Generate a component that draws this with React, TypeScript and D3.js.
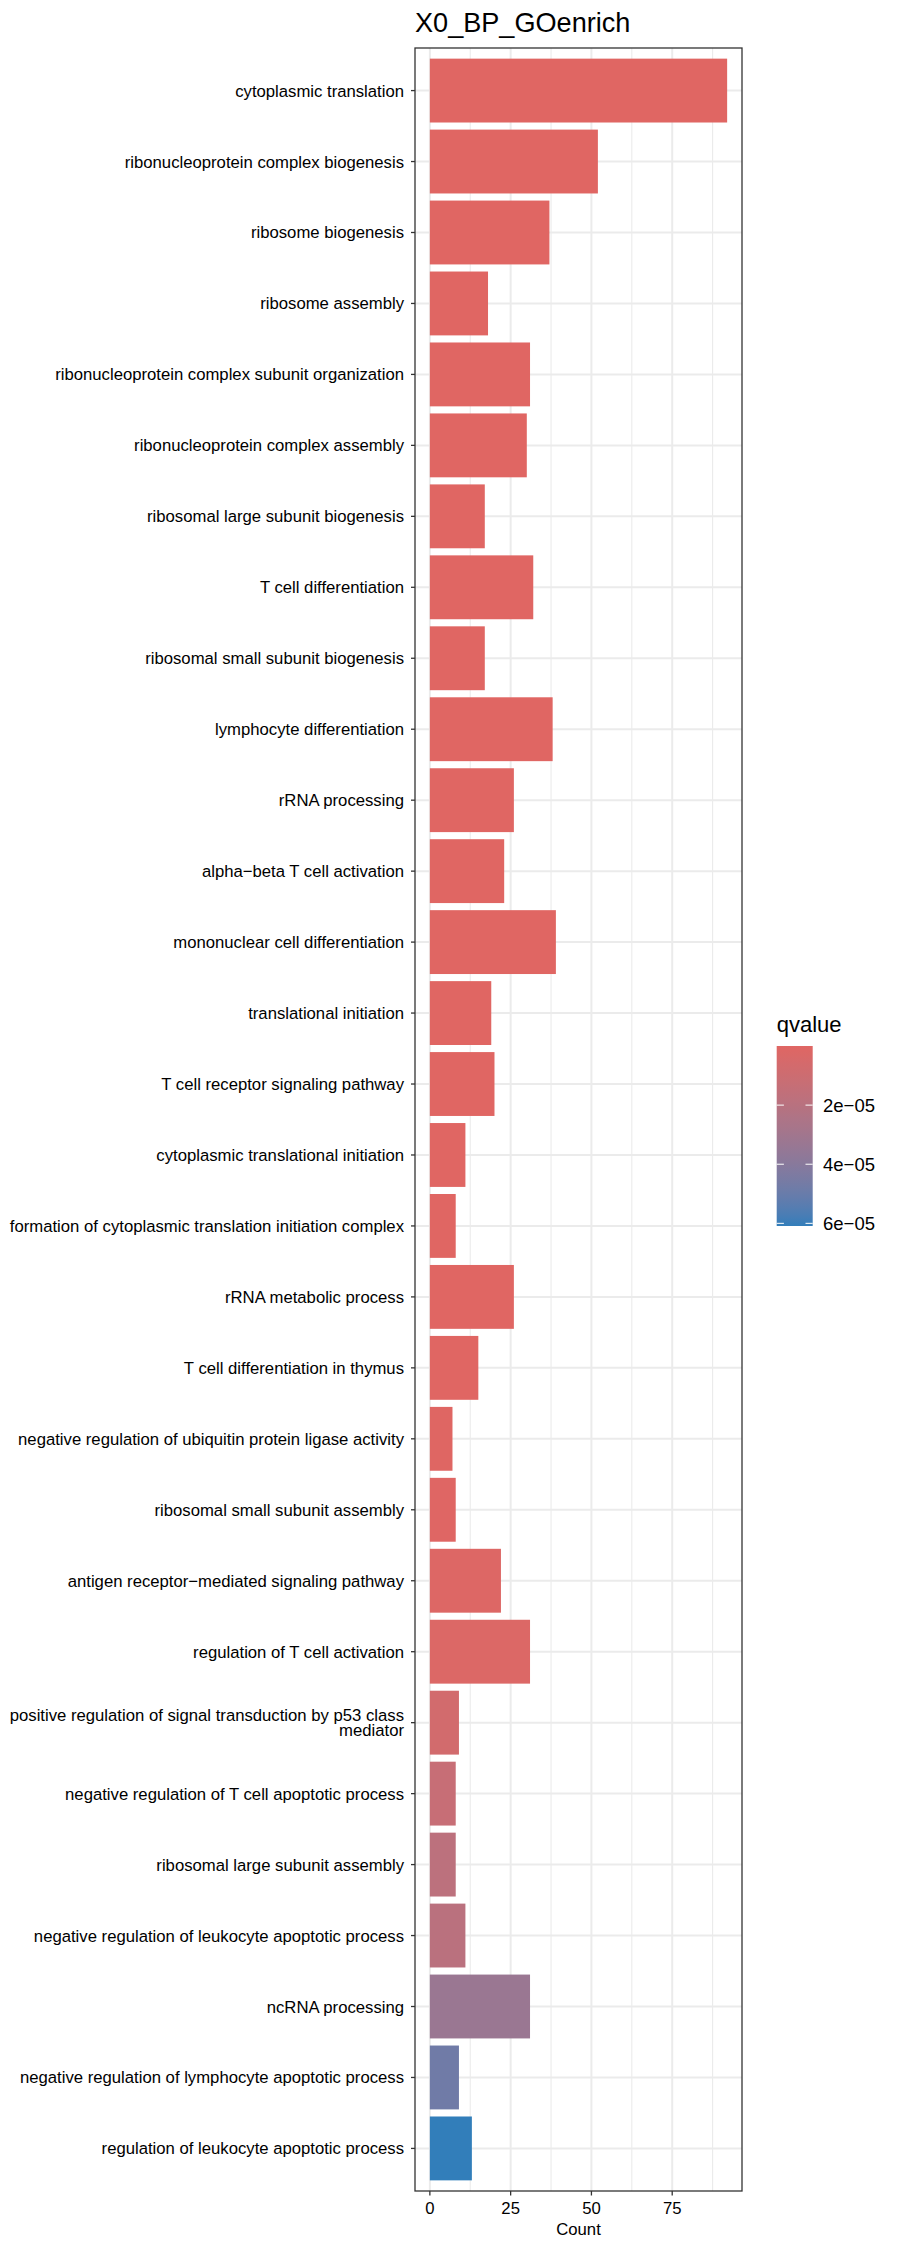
import React, { useEffect } from "react";
import * as d3 from "d3";

const terms = [
  "cytoplasmic translation",
  "ribonucleoprotein complex biogenesis",
  "ribosome biogenesis",
  "ribosome assembly",
  "ribonucleoprotein complex subunit organization",
  "ribonucleoprotein complex assembly",
  "ribosomal large subunit biogenesis",
  "T cell differentiation",
  "ribosomal small subunit biogenesis",
  "lymphocyte differentiation",
  "rRNA processing",
  "alpha\u2212beta T cell activation",
  "mononuclear cell differentiation",
  "translational initiation",
  "T cell receptor signaling pathway",
  "cytoplasmic translational initiation",
  "formation of cytoplasmic translation initiation complex",
  "rRNA metabolic process",
  "T cell differentiation in thymus",
  "negative regulation of ubiquitin protein ligase activity",
  "ribosomal small subunit assembly",
  "antigen receptor\u2212mediated signaling pathway",
  "regulation of T cell activation",
  "positive regulation of signal transduction by p53 class mediator",
  "negative regulation of T cell apoptotic process",
  "ribosomal large subunit assembly",
  "negative regulation of leukocyte apoptotic process",
  "ncRNA processing",
  "negative regulation of lymphocyte apoptotic process",
  "regulation of leukocyte apoptotic process",
];

const counts = [92, 52, 37, 18, 31, 30, 17, 32, 17, 38, 26, 23, 39, 19, 20, 11, 8, 26, 15, 7, 8, 22, 31, 9, 8, 8, 11, 31, 9, 13];

const qvalues = [
  1.2e-38, 3.5e-22, 8.1e-18, 2.4e-15, 5.0e-15, 1.1e-14, 3.9e-13, 1.6e-12, 2.2e-12, 6.3e-12,
  1.5e-11, 3.8e-10, 4.1e-10, 9.7e-10, 2.0e-9, 4.6e-9, 1.3e-8, 2.9e-8, 8.5e-8, 3.1e-7,
  5.6e-7, 1.4e-6, 2.3e-6, 7.2e-6, 1.3e-5, 1.8e-5, 1.9e-5, 3.3e-5, 4.8e-5, 6.09e-5,
];

const xTicks = [0, 25, 50, 75];
const xMinorTicks = [12.5, 37.5, 62.5, 87.5];
const legendTicks = [2e-5, 4e-5, 6e-5];
const legendTickLabels = ["2e\u221205", "4e\u221205", "6e\u221205"];

const title = "X0_BP_GOenrich";
const xTitle = "Count";
const legendTitle = "qvalue";

const LOW_COLOR = "#e06663";
const HIGH_COLOR = "#327eba";
const FONT = "'Liberation Sans', Arial, Helvetica, sans-serif";

function wrap(s: string, width: number): string[] {
  const words = s.split(" ");
  const lines: string[] = [];
  let cur = "";
  for (const w of words) {
    if (cur.length === 0) cur = w;
    else if ((cur + " " + w).length <= width) cur = cur + " " + w;
    else {
      lines.push(cur);
      cur = w;
    }
  }
  if (cur) lines.push(cur);
  return lines;
}

export default function App() {
  useEffect(() => {
    document.body.style.margin = "0";
  }, []);

  const W = 900;
  const H = 2250;
  const panel = { left: 415, right: 742, top: 48, bottom: 2191 };

  const maxC = d3.max(counts) as number;
  const x = d3
    .scaleLinear()
    .domain([-0.05 * maxC, maxC * 1.05])
    .range([panel.left, panel.right]);

  const y = d3.scalePoint<string>().domain(terms).range([panel.top, panel.bottom]).padding(0.6);
  const step = y.step();
  const barH = step * 0.9;

  const qExtent = d3.extent(qvalues) as [number, number];
  const interp = d3.interpolateLab(LOW_COLOR, HIGH_COLOR);
  const color = (q: number) => interp((q - qExtent[0]) / (qExtent[1] - qExtent[0]));

  const leg = { x: 776.7, w: 36, top: 1046, bottom: 1226 };
  const ly = d3.scaleLinear().domain(qExtent).range([leg.top, leg.bottom]);
  const stops = d3.range(0, 1.0001, 0.05);

  const fontSize = 16.7;

  return (
    <svg
      width={W}
      height={H}
      style={{ position: "absolute", left: 0, top: 0, background: "#fff" }}
      fontFamily={FONT}
    >
      <defs>
        <linearGradient id="qgrad" x1="0" y1="0" x2="0" y2="1">
          {stops.map((t, i) => (
            <stop key={i} offset={t} stopColor={interp(t)} />
          ))}
        </linearGradient>
      </defs>
      <rect x={0} y={0} width={W} height={H} fill="#fff" />

      {/* grid */}
      {xMinorTicks.map((t) => (
        <line key={"mn" + t} x1={x(t)} x2={x(t)} y1={panel.top} y2={panel.bottom} stroke="#ebebeb" strokeWidth={1.1} />
      ))}
      {xTicks.map((t) => (
        <line key={"mj" + t} x1={x(t)} x2={x(t)} y1={panel.top} y2={panel.bottom} stroke="#ebebeb" strokeWidth={2} />
      ))}
      {terms.map((t) => (
        <line key={"hg" + t} x1={panel.left} x2={panel.right} y1={y(t)} y2={y(t)} stroke="#ebebeb" strokeWidth={2} />
      ))}

      {/* bars */}
      {terms.map((t, i) => (
        <rect
          key={"b" + t}
          x={x(0)}
          y={(y(t) as number) - barH / 2}
          width={x(counts[i]) - x(0)}
          height={barH}
          fill={color(qvalues[i])}
        />
      ))}

      {/* panel border */}
      <rect
        x={panel.left}
        y={panel.top}
        width={panel.right - panel.left}
        height={panel.bottom - panel.top}
        fill="none"
        stroke="#333333"
        strokeWidth={1.3}
      />

      {/* y axis ticks and labels */}
      {terms.map((t) => {
        const cy = y(t) as number;
        const lines = wrap(t, 60);
        const lh = fontSize * 0.9;
        const y0 = cy - ((lines.length - 1) * lh) / 2;
        return (
          <g key={"yl" + t}>
            <line x1={panel.left - 4} x2={panel.left} y1={cy} y2={cy} stroke="#333333" strokeWidth={1.3} />
            <text x={panel.left - 11} y={y0} textAnchor="end" fontSize={fontSize} fill="#000" dominantBaseline="central">
              {lines.map((l, k) => (
                <tspan key={k} x={panel.left - 11} y={y0 + k * lh}>
                  {l}
                </tspan>
              ))}
            </text>
          </g>
        );
      })}

      {/* x axis */}
      {xTicks.map((t) => (
        <g key={"xt" + t}>
          <line x1={x(t)} x2={x(t)} y1={panel.bottom} y2={panel.bottom + 4.5} stroke="#333333" strokeWidth={1.3} />
          <text x={x(t)} y={2214} textAnchor="middle" fontSize={fontSize} fill="#000">
            {t}
          </text>
        </g>
      ))}
      <text x={(panel.left + panel.right) / 2} y={2235} textAnchor="middle" fontSize={fontSize} fill="#000">
        {xTitle}
      </text>

      {/* title */}
      <text x={panel.left} y={31.5} fontSize={27.1} fill="#000">
        {title}
      </text>

      {/* legend */}
      <text x={leg.x} y={1031.5} fontSize={22} fill="#000">
        {legendTitle}
      </text>
      <rect x={leg.x} y={leg.top} width={leg.w} height={leg.bottom - leg.top} fill="url(#qgrad)" />
      {legendTicks.map((t, i) => (
        <g key={"lt" + t}>
          <line x1={leg.x} x2={leg.x + leg.w / 5} y1={ly(t)} y2={ly(t)} stroke="#fff" strokeWidth={1} />
          <line x1={leg.x + leg.w - leg.w / 5} x2={leg.x + leg.w} y1={ly(t)} y2={ly(t)} stroke="#fff" strokeWidth={1} />
          <text x={823} y={ly(t)} fontSize={18.5} fill="#000" dominantBaseline="central">
            {legendTickLabels[i]}
          </text>
        </g>
      ))}
    </svg>
  );
}
